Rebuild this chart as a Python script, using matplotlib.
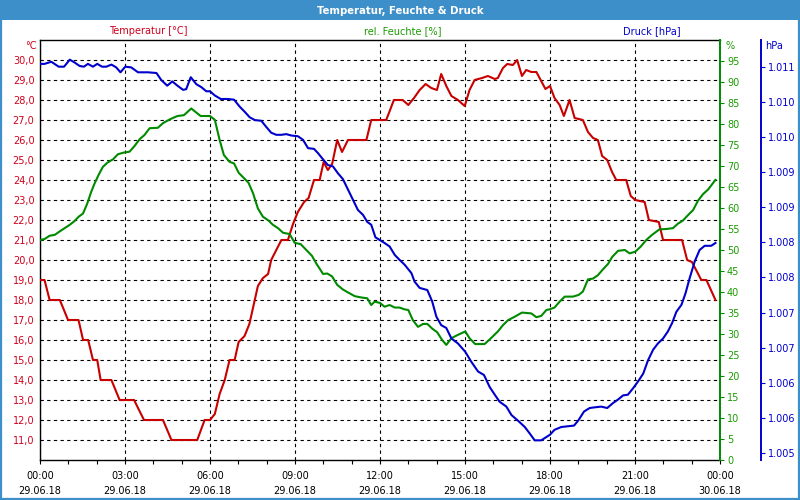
import matplotlib
matplotlib.use('Agg')
import matplotlib.pyplot as plt
from matplotlib.patches import Rectangle
from matplotlib.ticker import FixedLocator, MultipleLocator

# Temperatur [°C] - time in hours since 29.06.18 00:00
temp_hours = [0, 0.16, 0.34, 0.7, 0.99, 1.36, 1.52, 1.7,
              1.87, 2.02, 2.14, 2.52, 2.81, 3.32, 3.67, 4.34,
              4.64, 5.55, 5.81, 6.0, 6.17, 6.34, 6.52, 6.69,
              6.87, 7.01, 7.22, 7.39, 7.58, 7.69, 7.87, 8.05,
              8.16, 8.34, 8.52, 8.75, 8.93, 9.1, 9.32, 9.48,
              9.67, 9.87, 10.01, 10.16, 10.31, 10.49, 10.66, 10.87,
              11.52, 11.69, 12.0, 12.22, 12.49, 12.8, 13.0, 13.2,
              13.4, 13.61, 13.81, 14.01, 14.16, 14.34, 14.52, 14.75,
              14.99, 15.16, 15.34, 15.6, 15.81, 16.05, 16.16, 16.34,
              16.49, 16.69, 16.84, 17.01, 17.16, 17.34, 17.52, 17.67,
              17.84, 18.0, 18.16, 18.34, 18.49, 18.69, 18.87, 19.16,
              19.34, 19.52, 19.69, 19.84, 20.02, 20.19, 20.34, 20.69,
              20.85, 21.01, 21.34, 21.49, 21.84, 21.99, 22.66, 22.84,
              23.01, 23.34, 23.52, 23.84]
temp_values = [19.0, 19.0, 18.0, 18.0, 17.0, 17.0, 16.0, 16.0,
               15.0, 15.0, 14.0, 14.0, 13.0, 13.0, 12.0, 12.0,
               11.0, 11.0, 12.0, 12.0, 12.3, 13.3, 14.0, 15.0,
               15.0, 15.9, 16.2, 16.8, 18.0, 18.7, 19.1, 19.3,
               20.0, 20.5, 21.0, 21.0, 21.8, 22.4, 22.9, 23.1,
               24.0, 24.0, 24.9, 24.5, 24.8, 26.0, 25.4, 26.0,
               26.0, 27.0, 27.0, 27.0, 28.0, 28.0, 27.75, 28.1,
               28.5, 28.8, 28.6, 28.5, 29.3, 28.7, 28.2, 28.0,
               27.7, 28.5, 29.0, 29.1, 29.2, 29.05, 29.1, 29.6,
               29.8, 29.75, 30.0, 29.2, 29.5, 29.4, 29.4, 29.0,
               28.55, 28.7, 28.1, 27.75, 27.2, 28.0, 27.1, 27.0,
               26.4, 26.1, 26.0, 25.2, 25.0, 24.4, 24.0, 24.0,
               23.2, 23.0, 22.9, 22.0, 21.9, 21.0, 21.0, 20.0,
               19.9, 19.0, 19.0, 18.0]

# rel. Feuchte [%]
hum_hours = [0, 0.16, 0.34, 0.52, 0.69, 0.87, 1.05, 1.22, 1.36, 1.52,
             1.67, 1.81, 1.93, 2.07, 2.22, 2.38, 2.58, 2.75, 2.96, 3.16,
             3.34, 3.52, 3.69, 3.87, 4.16, 4.34, 4.58, 4.85, 5.08, 5.34,
             5.52, 5.67, 6.0, 6.17, 6.34, 6.49, 6.69, 6.85, 7.01, 7.2,
             7.36, 7.52, 7.69, 7.87, 8.05, 8.22, 8.4, 8.58, 8.81, 8.99,
             9.2, 9.4, 9.6, 9.75, 9.99, 10.14, 10.31, 10.49, 10.69, 10.87,
             11.11, 11.34, 11.55, 11.69, 11.81, 12.0, 12.16, 12.34, 12.52, 12.69,
             12.85, 13.0, 13.16, 13.34, 13.52, 13.67, 13.84, 14.02, 14.19, 14.34,
             14.52, 14.75, 15.01, 15.16, 15.36, 15.69, 15.87, 16.16, 16.34, 16.52,
             16.75, 17.01, 17.34, 17.52, 17.69, 17.87, 18.0, 18.16, 18.34, 18.52,
             18.81, 19.01, 19.16, 19.34, 19.52, 19.69, 19.87, 20.05, 20.19, 20.4,
             20.64, 20.81, 21.01, 21.2, 21.4, 21.6, 21.86, 22.1, 22.34, 22.52,
             22.69, 22.87, 23.05, 23.22, 23.4, 23.58, 23.84]
hum_values = [52.4, 52.6, 53.4, 53.6, 54.4, 55.2, 56.0, 56.9, 57.9, 58.7,
              61.1, 63.9, 65.9, 67.9, 69.8, 70.8, 71.6, 72.8, 73.2, 73.4,
              74.8, 76.4, 77.4, 79.0, 79.1, 80.2, 81.1, 81.9, 82.1, 83.7,
              82.7, 81.9, 81.9, 81.0, 76.2, 72.6, 71.0, 70.6, 68.4, 67.1,
              66.0, 63.5, 59.9, 57.9, 57.1, 56.0, 55.2, 54.1, 53.8, 51.7,
              51.4, 50.0, 48.6, 46.8, 44.3, 44.4, 43.7, 41.7, 40.6, 39.9,
              39.0, 38.7, 38.5, 36.9, 37.7, 37.4, 36.5, 36.9, 36.3, 36.3,
              35.9, 35.7, 33.3, 31.7, 32.4, 32.4, 31.3, 30.4, 28.6, 27.4,
              29.0, 29.8, 30.6, 29.0, 27.6, 27.6, 28.7, 30.6, 32.1, 33.3,
              34.1, 35.1, 34.9, 34.0, 34.3, 35.7, 35.9, 36.3, 37.7, 38.9,
              38.9, 39.3, 40.1, 43.0, 43.2, 44.0, 45.4, 46.7, 48.3, 49.8,
              50.0, 49.2, 49.6, 50.8, 52.4, 53.6, 54.9, 55.0, 55.2, 56.3,
              57.0, 58.3, 59.5, 61.7, 63.3, 64.4, 66.7]

# Druck [hPa]
pres_hours = [0, 0.16, 0.4, 0.66, 0.85, 1.05, 1.22, 1.4, 1.55, 1.69,
              1.87, 2.02, 2.19, 2.34, 2.52, 2.69, 2.84, 3.01, 3.22, 3.46,
              3.81, 4.11, 4.28, 4.49, 4.67, 4.85, 5.05, 5.16, 5.32, 5.52,
              5.69, 5.87, 6.0, 6.17, 6.38, 6.64, 6.85, 7.05, 7.22, 7.4,
              7.58, 7.81, 7.99, 8.16, 8.34, 8.52, 8.69, 8.87, 9.1, 9.28,
              9.46, 9.67, 9.81, 9.99, 10.16, 10.34, 10.52, 10.69, 10.87, 11.05,
              11.22, 11.4, 11.55, 11.69, 11.84, 12.0, 12.16, 12.34, 12.52, 12.69,
              12.87, 13.11, 13.22, 13.4, 13.67, 13.84, 13.99, 14.16, 14.34, 14.52,
              14.75, 15.01, 15.22, 15.46, 15.67, 15.87, 16.05, 16.22, 16.46, 16.64,
              16.87, 17.11, 17.28, 17.46, 17.69, 18.0, 18.16, 18.4, 18.64, 18.85,
              19.01, 19.2, 19.4, 19.58, 19.81, 20.02, 20.22, 20.4, 20.58, 20.75,
              20.93, 21.11, 21.29, 21.46, 21.64, 21.81, 21.99, 22.16, 22.31, 22.46,
              22.64, 22.78, 22.93, 23.11, 23.28, 23.46, 23.69, 23.84]
pres_values = [1011.04, 1011.04, 1011.07, 1011.00, 1011.00, 1011.10, 1011.06, 1011.01, 1011.00, 1011.04,
               1011.00, 1011.04, 1011.00, 1011.00, 1011.03, 1010.99, 1010.92, 1011.00, 1010.99, 1010.92,
               1010.92, 1010.91, 1010.81, 1010.73, 1010.79, 1010.73, 1010.67, 1010.68, 1010.85, 1010.75,
               1010.71, 1010.65, 1010.65, 1010.59, 1010.54, 1010.54, 1010.53, 1010.43, 1010.36, 1010.28,
               1010.24, 1010.23, 1010.14, 1010.06, 1010.03, 1010.03, 1010.04, 1010.02, 1010.01, 1009.96,
               1009.84, 1009.83, 1009.77, 1009.68, 1009.60, 1009.58, 1009.48, 1009.40, 1009.25, 1009.10,
               1008.96, 1008.89, 1008.79, 1008.75, 1008.57, 1008.53, 1008.49, 1008.44, 1008.32, 1008.25,
               1008.18, 1008.06, 1007.94, 1007.85, 1007.82, 1007.66, 1007.44, 1007.32, 1007.28, 1007.13,
               1007.06, 1006.94, 1006.80, 1006.66, 1006.61, 1006.44, 1006.33, 1006.23, 1006.16, 1006.04,
               1005.96, 1005.87, 1005.78, 1005.68, 1005.68, 1005.76, 1005.83, 1005.87, 1005.88, 1005.89,
               1005.97, 1006.09, 1006.14, 1006.15, 1006.16, 1006.14, 1006.21, 1006.26, 1006.32, 1006.33,
               1006.42, 1006.52, 1006.63, 1006.82, 1006.97, 1007.06, 1007.13, 1007.23, 1007.35, 1007.51,
               1007.61, 1007.77, 1007.99, 1008.23, 1008.39, 1008.45, 1008.45, 1008.49]

time_ticks = [0, 3, 6, 9, 12, 15, 18, 21, 24]
time_labels = ['00:00\n29.06.18', '03:00\n29.06.18', '06:00\n29.06.18',
               '09:00\n29.06.18', '12:00\n29.06.18', '15:00\n29.06.18',
               '18:00\n29.06.18', '21:00\n29.06.18', '00:00\n30.06.18']
temp_ticks = [11, 12, 13, 14, 15, 16, 17, 18, 19, 20,
              21, 22, 23, 24, 25, 26, 27, 28, 29, 30]
hum_ticks = list(range(0, 100, 5))
pres_ticks = [1005.5, 1006.0, 1006.5, 1007.0, 1007.5, 1008.0,
              1008.5, 1009.0, 1009.5, 1010.0, 1010.5, 1011.0]

RED = '#c80000'
RED_TXT = '#d0001c'
GREEN = '#008a00'
GREEN_TXT = '#1a9a00'
BLUE = '#0000cc'
BAR = '#3d8fc9'
FS = 7

plt.rcParams['font.family'] = 'DejaVu Sans'

fig = plt.figure(figsize=(8, 5), dpi=100)
fig.patch.set_facecolor('white')

# title bar and frame
fig.patches.append(Rectangle((0, 0.96), 1, 0.04, transform=fig.transFigure,
                             facecolor=BAR, edgecolor='none', zorder=0))
fig.patches.append(Rectangle((0.001, 0.002), 0.998, 0.97, transform=fig.transFigure,
                             facecolor='none', edgecolor=BAR, linewidth=1.6, zorder=0))
fig.text(0.5, 0.979, 'Temperatur, Feuchte & Druck', color='white',
         fontsize=7.3, fontweight='bold', ha='center', va='center')

ax = fig.add_axes([0.05, 0.08, 0.85, 0.84])
ax2 = ax.twinx()
ax3 = ax.twinx()
# move the pressure spine first, it resets the ticks
ax3.spines['right'].set_position(('outward', 29.5))

# temperature
ax.plot(temp_hours, temp_values, color=RED, linewidth=1.5, zorder=3)
ax.set_xlim(0, 24)
ax.set_ylim(10, 31)
ax.xaxis.set_major_locator(FixedLocator(time_ticks))
ax.set_xticklabels(time_labels, fontsize=FS, linespacing=1.6)
ax.xaxis.set_minor_locator(MultipleLocator(1))
ax.tick_params(axis='x', which='both', direction='out', length=3, width=0.8, pad=5)
ax.set_yticks(temp_ticks)
ax.set_yticklabels([f'{v:.1f}'.replace('.', ',') for v in temp_ticks],
                   fontsize=FS, color=RED_TXT)
ax.tick_params(axis='y', length=0, pad=4)
ax.grid(True, which='major', color='black', linestyle=(0, (3, 3)), linewidth=0.8)
for s in ['left', 'top', 'bottom']:
    ax.spines[s].set_linewidth(1)
ax.spines['right'].set_visible(False)

# humidity
ax2.plot(hum_hours, hum_values, color=GREEN, linewidth=1.5)
ax2.set_ylim(0, 100)
ax2.set_yticks(hum_ticks)
ax2.set_yticklabels([str(v) for v in hum_ticks], fontsize=FS, color=GREEN_TXT)
ax2.tick_params(axis='y', direction='out', length=3, color=GREEN, pad=2)
for s in ['left', 'top', 'bottom']:
    ax2.spines[s].set_visible(False)
ax2.spines['right'].set_color(GREEN)
ax2.spines['right'].set_linewidth(1.4)

# pressure
ax3.plot(pres_hours, pres_values, color=BLUE, linewidth=1.5)
ax3.set_ylim(1005.4, 1011.38)
ax3.set_yticks(pres_ticks)
ax3.set_yticklabels([f'{int(v) // 1000}.{int(v) % 1000:03d}' for v in pres_ticks],
                    fontsize=FS, color=BLUE)
ax3.tick_params(axis='y', direction='out', length=3, color=BLUE, pad=2)
for s in ['left', 'top', 'bottom']:
    ax3.spines[s].set_visible(False)
ax3.spines['right'].set_color(BLUE)
ax3.spines['right'].set_linewidth(1.4)

# series headers and units
fig.text(148 / 800, 1 - 31 / 500, 'Temperatur [°C]', color=RED_TXT, fontsize=FS, ha='center', va='center')
fig.text(403 / 800, 1 - 31 / 500, 'rel. Feuchte [%]', color=GREEN_TXT, fontsize=FS, ha='center', va='center')
fig.text(652 / 800, 1 - 31 / 500, 'Druck [hPa]', color=BLUE, fontsize=FS, ha='center', va='center')
fig.text(37 / 800, 1 - 46 / 500, '°C', color=RED_TXT, fontsize=FS, ha='right', va='center')
fig.text(725 / 800, 1 - 46 / 500, '%', color=GREEN_TXT, fontsize=FS, ha='left', va='center')
fig.text(765 / 800, 1 - 46 / 500, 'hPa', color=BLUE, fontsize=FS, ha='left', va='center')

fig.savefig('out.png', dpi=100, facecolor='white')
